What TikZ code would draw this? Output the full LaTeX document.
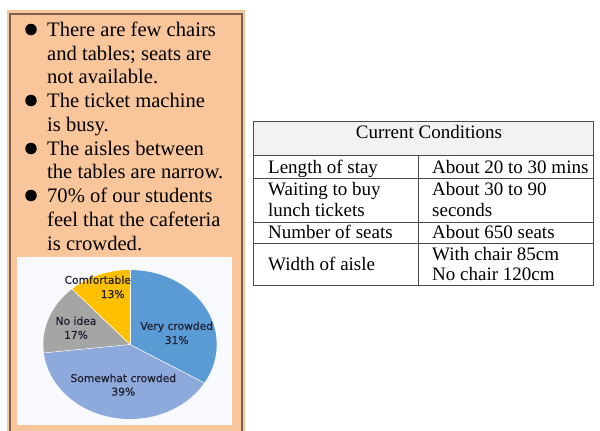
\documentclass[tikz,border=0pt]{standalone}
\usepackage{fontspec}
\setmainfont{Liberation Serif}
\newfontfamily\piefont[FakeBold=0.4]{DejaVu Sans}
\definecolor{peach}{HTML}{F9C59A}
\definecolor{boxline}{HTML}{7A6152}
\definecolor{vcrowd}{HTML}{5B9BD5}
\definecolor{swcrowd}{HTML}{8EA9DB}
\definecolor{noidea}{HTML}{A5A5A5}
\definecolor{comfy}{HTML}{FFC000}
\definecolor{pietext}{HTML}{1E2030}
\definecolor{hdrfill}{HTML}{F2F2F2}
\definecolor{tline}{HTML}{4A4A4A}
\definecolor{piebg}{HTML}{F8F9FC}
\begin{document}
\begin{tikzpicture}[x=1bp,y=-1bp,
  leftline/.style={anchor=base west, inner sep=0pt, font=\fontsize{20.6bp}{24bp}\selectfont},
  cell/.style={anchor=base west, inner sep=0pt, font=\fontsize{19bp}{22bp}\selectfont},
  bul/.style={circle, fill=black, inner sep=0pt, minimum size=11.5bp},
  pielbl/.style={anchor=base, inner sep=0pt, text=pietext, font=\piefont\fontsize{10.7bp}{12bp}\selectfont},
  tbl/.style={draw=tline, line width=0.9bp},
  slice/.style={draw=white, line width=0.5bp}]
\useasboundingbox (0,0) rectangle (600,430);
\clip (0,0) rectangle (600,430);
\fill[white] (0,0) rectangle (600,430);

% left panel
\fill[peach] (7,10) rectangle (245,440);
\draw[boxline, line width=1.2bp] (10,14) rectangle (242,445);
\fill[piebg] (17,257) rectangle (232,425);

% bullets
\node[bul] (b1) at (31,29.5) {};
\node[bul] (b2) at (31,100.5) {};
\node[bul] (b3) at (31,148.5) {};
\node[bul] (b4) at (31,195.5) {};

\node[leftline] (l1) at (47,36) {There are few chairs};
\node[leftline] (l2) at (47,60) {and tables; seats are};
\node[leftline] (l3) at (47,83.5) {not available.};
\node[leftline] (l4) at (47,107) {The ticket machine};
\node[leftline] (l5) at (47,131) {is busy.};
\node[leftline] (l6) at (47,155) {The aisles between};
\node[leftline] (l7) at (47,178.5) {the tables are narrow.};
\node[leftline] (l8) at (47,202) {70\% of our students};
\node[leftline] (l9) at (47,226) {feel that the cafeteria};
\node[leftline] (l10) at (47,250) {is crowded.};

% pie
\coordinate (pc) at (130,344.5);
\begin{scope}[shift={(pc)}]
  \fill[vcrowd] (0bp,0bp) -- (90:86.7bp and 74.5bp) arc[start angle=90, end angle=-31, x radius=86.7bp, y radius=74.5bp] -- cycle;
  \fill[swcrowd] (0bp,0bp) -- (-31:86.7bp and 74.5bp) arc[start angle=-31, end angle=-173.5, x radius=86.7bp, y radius=74.5bp] -- cycle;
  \fill[noidea] (0bp,0bp) -- (-173.5:86.7bp and 74.5bp) arc[start angle=-173.5, end angle=-228.1, x radius=86.7bp, y radius=74.5bp] -- cycle;
  \fill[comfy] (0bp,0bp) -- (-228.1:86.7bp and 74.5bp) arc[start angle=-228.1, end angle=-270, x radius=86.7bp, y radius=74.5bp] -- cycle;
  \draw[slice] (0bp,0bp) -- (90:86.7bp and 74.5bp);
  \draw[slice] (0bp,0bp) -- (-31:86.7bp and 74.5bp);
  \draw[slice] (0bp,0bp) -- (-173.5:86.7bp and 74.5bp);
  \draw[slice] (0bp,0bp) -- (-228.1:86.7bp and 74.5bp);
\end{scope}
\node[pielbl] (pcomf) at (97.7,283.8) {Comfortable};
\node[pielbl] (pcomfv) at (112.7,298) {13\%};
\node[pielbl] (pno) at (76,324.8) {No idea};
\node[pielbl] (pnov) at (76,338.8) {17\%};
\node[pielbl] (pvc) at (176.7,329.8) {Very crowded};
\node[pielbl] (pvcv) at (176.7,344) {31\%};
\node[pielbl] (psw) at (123.3,382) {Somewhat crowded};
\node[pielbl] (pswv) at (123.3,395.5) {39\%};

% table
\fill[hdrfill] (253,121) rectangle (593,155);
\draw[tbl] (253,121) rectangle (593,285);
\draw[tbl] (253,155) -- (593,155);
\draw[tbl] (253,178) -- (593,178);
\draw[tbl] (253,222) -- (593,222);
\draw[tbl] (253,243) -- (593,243);
\draw[tbl] (418,155) -- (418,285);

\node[anchor=base, inner sep=0pt, font=\fontsize{19bp}{22bp}\selectfont] (hdr) at (429,138.3) {Current Conditions};
\node[cell] (c11) at (268,173.3) {Length of stay};
\node[cell] (c12) at (432,173.3) {About 20 to 30 mins};
\node[cell] (c21) at (268,195) {Waiting to buy};
\node[cell] (c21b) at (268,216.7) {lunch tickets};
\node[cell] (c22) at (432,195) {About 30 to 90};
\node[cell] (c22b) at (432,216.7) {seconds};
\node[cell] (c31) at (268,238.3) {Number of seats};
\node[cell] (c32) at (432,238.3) {About 650 seats};
\node[cell] (c41) at (268,270) {Width of aisle};
\node[cell] (c42) at (432,260) {With chair 85cm};
\node[cell] (c42b) at (432,280.7) {No chair 120cm};
\end{tikzpicture}
\end{document}
